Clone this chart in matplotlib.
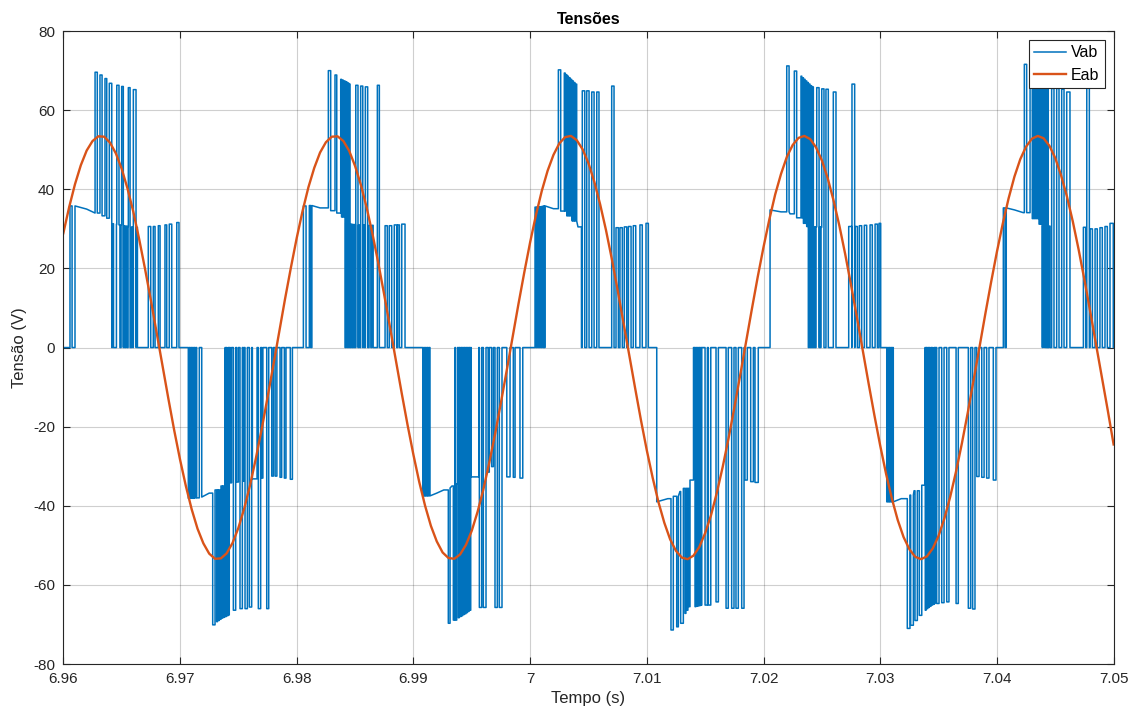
import numpy as np
import matplotlib
matplotlib.use("Agg")
import matplotlib.pyplot as plt

plt.rcParams['font.family'] = ['Liberation Sans', 'DejaVu Sans']
plt.rcParams['axes.unicode_minus'] = False

eab_dt_ms = 0.5
eab = [28.9, 35.5, 41.3, 46.1, 49.8, 52.2, 53.4, 53.3, 51.8, 49.1,
       45.2, 40.2, 34.3, 27.4, 19.9, 12.0, 3.7, -4.7, -12.9, -20.9,
       -28.3, -35.0, -40.9, -45.8, -49.5, -52.1, -53.4, -53.3, -52.0, -49.4,
       -45.6, -40.7, -34.8, -28.0, -20.6, -12.6, -4.4, 4.0, 12.3, 20.2,
       27.7, 34.5, 40.5, 45.4, 49.3, 51.9, 53.3, 53.4, 52.2, 49.7,
       45.9, 41.1, 35.3, 28.6, 21.2, 13.3, 5.0, -3.4, -11.6, -19.6,
       -27.1, -34.0, -40.0, -45.1, -49.0, -51.8, -53.2, -53.4, -52.3, -49.9,
       -46.3, -41.5, -35.8, -29.1, -21.8, -13.9, -5.7, 2.7, 11.0, 19.0,
       26.6, 33.5, 39.6, 44.7, 48.7, 51.6, 53.2, 53.5, 52.4, 50.1,
       46.6, 41.9, 36.2, 29.7, 22.4, 14.5, 6.3, -2.0, -10.3, -18.4,
       -26.0, -32.9, -39.1, -44.3, -48.5, -51.4, -53.1, -53.5, -52.6, -50.4,
       -46.9, -42.4, -36.7, -30.2, -23.0, -15.2, -7.0, 1.4, 9.7, 17.8,
       25.4, 32.4, 38.7, 43.9, 48.2, 51.2, 53.0, 53.5, 52.7, 50.6,
       47.3, 42.8, 37.2, 30.8, 23.6, 15.8, 7.7, -0.7, -9.0, -17.1,
       -24.8, -31.9, -38.2, -43.6, -47.9, -51.0, -52.9, -53.5, -52.8, -50.8,
       -47.6, -43.2, -37.7, -31.3, -24.2, -16.5, -8.3, 0.0, 8.4, 16.5,
       24.2, 31.3, 37.7, 43.2, 47.6, 50.8, 52.8, 53.5, 52.9, 51.0,
       47.9, 43.5, 38.2, 31.9, 24.8, 17.1, 9.0, 0.7, -7.7, -15.9,
       -24.5]

# Vab: degraus (ms, V) e pulsos de nível alto (ms_ini, ms_fim, V)
vab_base = [
    # semiciclo + (0)
    (0.0, 0), (0.57, 35.8), (0.75, 0), (1.0, 35.8), (2.0, 35.0), (2.7, 34.0),
    (3.3, 33.3), (3.7, 32.7), (4.06, 0),
    (4.2, 31.3), (4.3, 0), (4.55, 31.2), (4.65, 0), (4.75, 31.0), (4.85, 0),
    (4.95, 31.0), (5.05, 0), (5.15, 30.8), (5.25, 0), (5.35, 30.7), (5.45, 0),
    (5.55, 30.6), (5.65, 0), (5.85, 30.5), (5.95, 0), (6.25, 30.4), (6.35, 0),
    (7.28, 30.6), (7.49, 0), (7.71, 30.6), (7.86, 0), (8.14, 30.8), (8.29, 0),
    (8.71, 31.0), (8.86, 0), (9.08, 31.2), (9.29, 0), (9.72, 31.6), (9.91, 0),
    # semiciclo - (0)
    (10.71, -38.1), (10.78, 0), (10.85, -38.1), (10.92, 0), (11.0, -38.1),
    (11.07, 0), (11.14, -38.1), (11.21, 0), (11.28, -38.0), (11.36, 0),
    (11.43, -38.0), (11.65, 0), (11.86, -37.8), (12.5, -36.8), (13.0, -36.0),
    (13.5, -35.0), (13.86, 0),
    (14.0, -34.4), (14.12, 0), (14.3, -34.2), (14.42, 0), (14.85, -34.0),
    (15.0, 0), (15.42, -33.8), (15.5, 0), (16.2, -33.2), (16.6, 0),
    (17.0, -33.0), (17.1, 0),
    (17.86, -32.5), (18.0, 0), (18.15, -32.5), (18.3, 0), (18.57, -32.8),
    (18.71, 0), (18.94, -33.0), (19.08, 0), (19.45, -33.3), (19.63, 0),
    # semiciclo + (1)
    (20.57, 35.8), (20.80, 0), (21.08, 35.9), (21.2, 0), (21.3, 35.9),
    (22.0, 35.3), (22.9, 34.6), (23.4, 34.0), (23.8, 33.0), (24.14, 0),
    (24.2, 31.5), (24.28, 0), (24.35, 31.4), (24.43, 0), (24.5, 31.3),
    (24.58, 0), (24.65, 31.2), (24.73, 0), (24.8, 31.1), (24.88, 0),
    (24.95, 31.1), (25.03, 0), (25.3, 31.0), (25.4, 0), (25.7, 31.0),
    (25.8, 0), (26.2, 30.9), (26.35, 0), (26.45, 30.9), (26.55, 0),
    (27.57, 30.8), (27.76, 0), (27.93, 30.8), (28.14, 0), (28.36, 31.0),
    (28.57, 0), (28.65, 31.0), (28.8, 0), (29.0, 31.2), (29.28, 0),
    # semiciclo - (1)
    (30.8, -37.5), (30.88, 0), (30.95, -37.5), (31.03, 0), (31.1, -37.5),
    (31.18, 0), (31.25, -37.5), (31.33, 0), (31.42, -37.5), (32.0, -36.8),
    (32.6, -36.0), (33.0, -35.5), (33.3, -35.0), (33.56, 0),
    (33.7, -34.5), (33.78, 0), (34.0, -34.3), (34.08, 0), (34.95, -32.7),
    (35.6, 0), (36.4, -31.5), (36.5, 0), (36.7, -30.1), (36.85, 0),
    (38.0, -32.7), (38.28, 0), (38.56, -32.8), (38.71, 0), (39.13, -33.0),
    (39.37, 0),
    # semiciclo + (2)
    (40.42, 35.5), (40.5, 0), (40.57, 35.5), (40.65, 0), (40.72, 35.6),
    (40.8, 0), (40.87, 35.6), (40.95, 0), (41.02, 35.7), (41.1, 0),
    (41.17, 35.8), (41.22, 0), (41.28, 35.8), (42.0, 35.1), (42.6, 34.5),
    (43.1, 33.3), (43.6, 32.0), (44.1, 30.5), (44.4, 0),
    (47.36, 30.3), (47.56, 0), (47.70, 30.3), (47.90, 0), (48.07, 30.5),
    (48.28, 0), (48.42, 30.6), (48.65, 0), (48.84, 30.8), (49.05, 0),
    (49.41, 31.0), (49.61, 0), (49.93, 31.4), (50.13, 0),
    # semiciclo - (2)
    (50.85, -39.0), (51.8, -38.2), (52.27, -37.6), (52.84, -36.4),
    (53.13, -35.6), (53.7, -33.5), (54.0, 0),
    (58.41, -33.5), (58.61, 0), (58.90, -33.9), (59.13, 0), (59.27, -34.1),
    (59.55, 0),
    # semiciclo + (3)
    (60.56, 34.8), (61.5, 34.3), (62.27, 33.8), (62.84, 32.8), (63.41, 31.4),
    (63.7, 30.6), (63.84, 0),
    (63.9, 30.6), (63.97, 0), (64.05, 30.6), (64.12, 0), (64.2, 30.6),
    (64.27, 0), (64.35, 30.5), (64.42, 0), (64.5, 30.5), (64.57, 0),
    (64.65, 30.5), (64.72, 0), (64.8, 30.5), (64.87, 0), (64.92, 30.4),
    (65.0, 0),
    (67.3, 30.6), (67.56, 0), (67.84, 30.6), (68.04, 0), (68.21, 30.8),
    (68.41, 0), (68.64, 30.9), (68.84, 0), (69.13, 31.0), (69.32, 0),
    (69.56, 31.2), (69.76, 0), (69.9, 31.4), (70.04, 0),
    # semiciclo - (3)
    (70.56, -39.0), (70.63, 0), (70.7, -39.0), (70.77, 0), (70.84, -39.0),
    (70.91, 0), (70.98, -39.0), (71.05, 0), (71.12, -39.0), (71.8, -38.2),
    (72.41, -37.3), (72.9, -36.2), (73.41, -34.8), (73.84, 0),
    (74.0, -33.8), (74.08, 0), (74.25, -33.6), (74.32, 0), (74.5, -33.5),
    (74.57, 0),
    (78.27, -32.6), (78.47, 0), (78.7, -32.8), (78.9, 0), (79.12, -33.0),
    (79.32, 0), (79.69, -33.5), (79.92, 0),
    # semiciclo + (4)
    (80.55, 35.3), (80.7, 0), (80.8, 35.3), (81.5, 34.8), (82.26, 34.1),
    (83.0, 32.6), (83.6, 31.2), (83.84, 0),
    (83.9, 30.8), (83.97, 0), (84.05, 30.8), (84.12, 0), (84.45, 30.7),
    (84.55, 0),
    (87.41, 30.4), (87.61, 0), (87.98, 30.0), (88.18, 0), (88.41, 30.0),
    (88.60, 0), (88.83, 30.3), (89.03, 0), (89.26, 30.6), (89.46, 0),
    (89.69, 31.4), (89.97, 0),
]

vab_hi = [
    (2.72, 2.91, 69.6), (3.14, 3.32, 68.9), (3.57, 3.72, 68.0), (3.94, 4.15, 66.8),
    (4.58, 4.77, 66.3), (5.0, 5.14, 66.0), (5.57, 5.72, 65.7), (6.0, 6.23, 65.2),

    (12.80, 13.0, -70.1), (13.14, 13.21, -69.3), (13.29, 13.36, -69.0),
    (13.44, 13.51, -68.7), (13.59, 13.66, -68.4), (13.74, 13.81, -68.2),
    (13.89, 13.96, -68.0), (14.04, 14.1, -67.8), (14.16, 14.22, -67.6),
    (14.57, 14.77, -66.4), (15.14, 15.34, -66.0), (15.57, 15.77, -66.0),
    (15.94, 16.14, -65.6), (16.71, 16.91, -66.0), (17.43, 17.60, -66.0),

    (22.71, 22.91, 70.0), (23.28, 23.43, 68.9), (23.77, 23.84, 67.8),
    (23.92, 23.99, 67.6), (24.07, 24.14, 67.4), (24.22, 24.29, 67.2),
    (24.37, 24.44, 66.9), (24.5, 24.57, 66.6), (25.06, 25.25, 66.3),
    (25.48, 25.66, 66.1), (25.88, 26.08, 65.9), (26.91, 27.08, 66.3),

    (32.99, 33.14, -69.7), (33.42, 33.52, -68.9), (33.6, 33.71, -68.9),
    (33.85, 33.92, -68.3), (34.0, 34.07, -68.0), (34.14, 34.21, -67.8),
    (34.28, 34.35, -67.5), (34.42, 34.49, -67.3), (34.56, 34.63, -67.0),
    (34.7, 34.77, -66.7), (34.84, 34.91, -66.4), (35.65, 35.85, -65.7),
    (35.99, 36.22, -65.7), (36.99, 37.19, -65.7), (37.36, 37.59, -65.7),

    (42.42, 42.62, 70.2), (42.93, 43.0, 69.4), (43.07, 43.14, 69.0),
    (43.21, 43.28, 68.6), (43.35, 43.42, 68.2), (43.49, 43.56, 67.8),
    (43.63, 43.7, 67.4), (43.77, 43.84, 67.0), (43.92, 43.99, 66.6),
    (44.47, 44.68, 64.9), (44.85, 45.05, 64.9), (45.28, 45.48, 64.6),
    (45.71, 45.90, 64.6), (46.99, 47.19, 66.1),

    (52.07, 52.27, -71.4), (52.56, 52.70, -70.6), (52.90, 53.13, -69.7),
    (53.27, 53.35, -67.2), (53.45, 53.52, -66.4), (53.6, 53.7, -65.5),
    (54.13, 54.2, -65.5), (54.27, 54.34, -65.4), (54.41, 54.48, -65.3),
    (54.55, 54.62, -65.2), (54.66, 54.71, -65.1), (54.99, 55.19, -65.1),
    (55.27, 55.48, -65.1), (55.93, 56.13, -64.3), (56.79, 56.98, -65.9),
    (57.27, 57.47, -65.9), (57.64, 57.84, -65.9), (58.13, 58.33, -65.9),

    (61.99, 62.19, 71.2), (62.64, 62.84, 69.9), (63.21, 63.28, 68.6),
    (63.35, 63.42, 68.2), (63.49, 63.56, 67.8), (63.63, 63.7, 67.4),
    (63.77, 63.84, 67.0), (63.91, 63.98, 66.6), (64.05, 64.12, 66.2),
    (64.2, 64.27, 65.9), (64.56, 64.76, 65.7), (64.99, 65.18, 65.4),
    (65.35, 65.55, 65.3), (65.98, 66.21, 64.6), (67.58, 67.81, 66.6),

    (72.32, 72.55, -71.0), (72.61, 72.84, -70.2), (72.98, 73.18, -69.0),
    (73.35, 73.56, -67.7), (73.86, 73.93, -66.4), (74.0, 74.07, -66.0),
    (74.14, 74.21, -65.7), (74.28, 74.35, -65.4), (74.42, 74.49, -65.1),
    (74.56, 74.62, -64.9), (74.66, 74.7, -64.7), (74.84, 75.04, -64.7),
    (75.27, 75.47, -64.5), (75.70, 75.89, -64.3), (76.5, 76.69, -64.7),
    (77.55, 77.75, -65.9), (77.92, 78.12, -66.1),

    (82.35, 82.55, 71.6), (82.84, 83.03, 70.8), (83.12, 83.19, 69.4),
    (83.26, 83.33, 69.0), (83.4, 83.47, 68.6), (83.54, 83.61, 68.2),
    (83.68, 83.75, 67.8), (83.82, 83.89, 67.5), (83.96, 84.03, 67.1),
    (84.1, 84.17, 66.7), (84.24, 84.31, 66.3), (84.35, 84.4, 65.9),
    (84.69, 84.89, 65.5), (85.12, 85.32, 65.5), (85.55, 85.75, 65.3),
    (85.98, 86.26, 64.6), (87.70, 87.92, 65.7),
]

t0 = 6.96
t_end_ms = 90.0


def build_vab(base, hi):
    # junta degraus e pulsos numa polilinha; variações pequenas viram rampa
    edges = sorted(set([b[0] for b in base] + [h[0] for h in hi] + [h[1] for h in hi]))
    bt = [b[0] for b in base]
    bv = [b[1] for b in base]
    xs, ys = [], []
    cur = None
    for t in edges:
        v = None
        for on, off, lv in hi:
            if on <= t < off:
                v = lv
                break
        if v is None:
            i = np.searchsorted(bt, t, side='right') - 1
            v = bv[i]
        if cur is not None and abs(v - cur) >= 3:
            xs.append(t)
            ys.append(cur)
        xs.append(t)
        ys.append(v)
        cur = v
    xs.append(t_end_ms)
    ys.append(cur)
    return t0 + np.array(xs) / 1000.0, np.array(ys)


vab_t, vab_v = build_vab(vab_base, vab_hi)
eab_t = t0 + np.arange(len(eab)) * eab_dt_ms / 1000.0

fig = plt.figure(figsize=(11.41, 7.18), dpi=100)
ax = fig.add_axes([0.0555, 0.0752, 0.9205, 0.8815])

ax.plot(vab_t, vab_v, color='#0072BD', lw=1.1, label='Vab')
ax.plot(eab_t, eab, color='#D95319', lw=1.7, label='Eab')

ax.set_xlim(6.96, 7.05)
ax.set_ylim(-80, 80)
xt = [6.96, 6.97, 6.98, 6.99, 7.0, 7.01, 7.02, 7.03, 7.04, 7.05]
xl = ['6.96', '6.97', '6.98', '6.99', '7', '7.01', '7.02', '7.03', '7.04', '7.05']
ax.set_xticks(xt)
ax.set_xticklabels(xl)
ax.set_yticks(np.arange(-80, 81, 20))

ax.grid(True, color='#262626', alpha=0.22, lw=0.8)
ax.set_axisbelow(True)
ax.tick_params(direction='in', top=True, right=True, length=5, width=0.8,
               colors='#262626', labelsize=11, pad=6)
for s in ax.spines.values():
    s.set_color('#262626')
    s.set_linewidth(0.8)

ax.set_title('Tensões', fontsize=11.5, fontweight='bold', color='#000000', pad=5)
ax.set_xlabel('Tempo (s)', fontsize=12, color='#262626', labelpad=3)
ax.set_ylabel('Tensão (V)', fontsize=12, color='#262626', labelpad=4)

leg = ax.legend(loc='upper right', fontsize=11.5, fancybox=False, framealpha=1,
                edgecolor='#262626', handlelength=2.0, borderpad=0.35,
                labelspacing=0.45, handletextpad=0.3, borderaxespad=0.55)
leg.get_frame().set_linewidth(0.8)

fig.savefig('out.png', dpi=100)
